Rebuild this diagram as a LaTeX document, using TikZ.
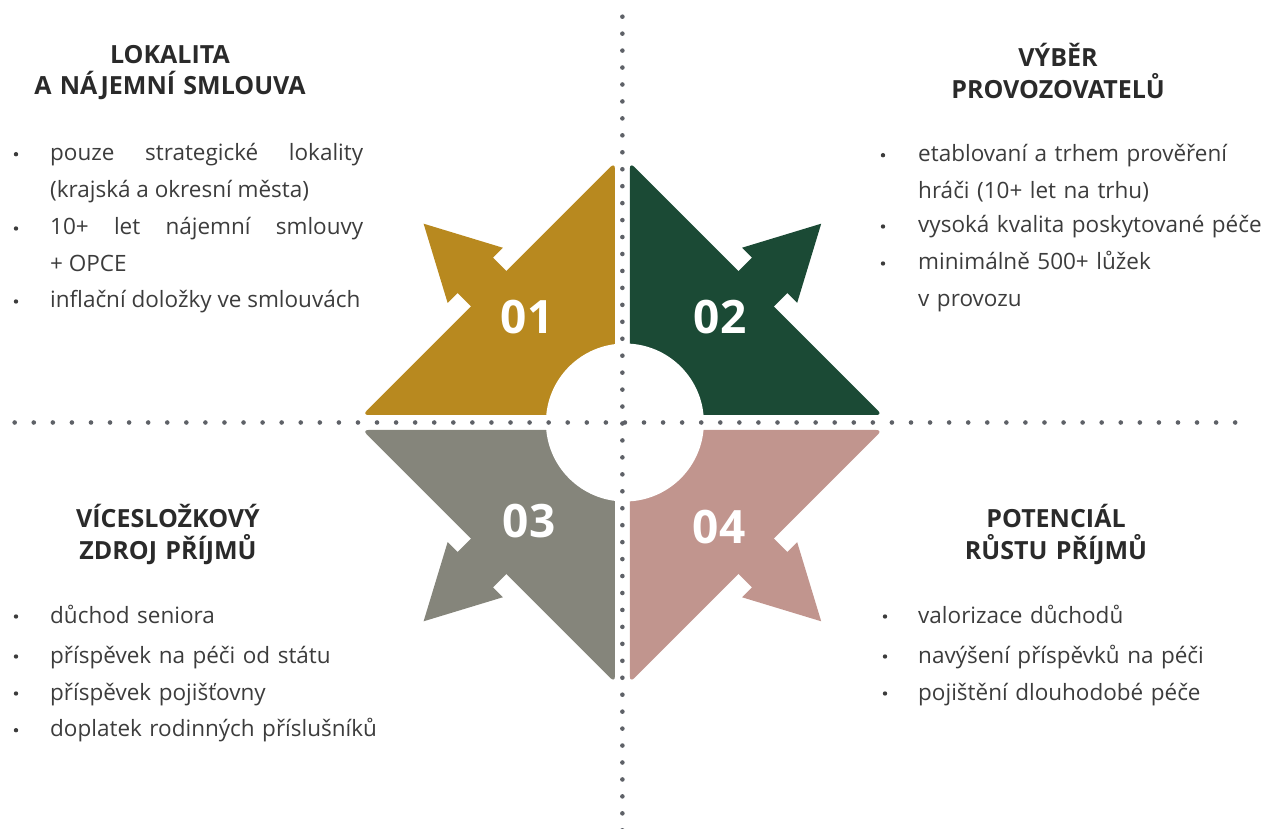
\documentclass[tikz,border=0pt]{standalone}
\usepackage{fontspec}
\setmainfont{Open Sans}
\definecolor{ochre}{HTML}{B8891F}
\definecolor{pine}{HTML}{1B4A35}
\definecolor{stone}{HTML}{85857B}
\definecolor{blush}{HTML}{C1958E}
\definecolor{dotgray}{HTML}{5E6167}
\definecolor{ink}{HTML}{2A2A2A}
\definecolor{txt}{HTML}{3C3C3C}
\def\dgap{7.5}
\def\dlen{260}
\def\dmid{133.75}
\def\drad{79}
% one blade of the star: body + arrow, drawn in the top right quadrant and mirrored
\newcommand\quadblade[3]{%
  \begin{scope}[xscale=#2,yscale=#3]
    \fill[#1,rounded corners=6pt] (\dgap,\dgap) -- (\dgap,\dlen) -- (\dlen,\dgap) -- cycle;
    \begin{scope}[shift={(\dmid,\dmid)},rotate=45]
      \fill[#1] (-6,25) -- (19,25) -- (19,39) -- (92,0) -- (19,-39) -- (19,-25) -- (-6,-25) -- cycle;
    \end{scope}
  \end{scope}}
\begin{document}
\begin{tikzpicture}[x=1pt,y=1pt,
  num/.style={text=white,font=\fontsize{46}{46}\selectfont\bfseries,inner sep=0},
  head/.style={text=ink,font=\fontsize{25}{31.5}\selectfont\bfseries,align=center,text width=340,anchor=base,inner sep=0},
  item/.style={text=txt,font=\fontsize{22.5}{36.7}\selectfont,anchor=base west,inner sep=0},
  itemJ/.style={item,text width=313,align=justify},
  itemR/.style={item,text width=350,align=left},
  bul/.style={circle,fill=txt,inner sep=0,minimum size=4.4}]
\useasboundingbox (-622.4,-406.5) rectangle (643.6,422.5);

\quadblade{ochre}{-1}{1}
\quadblade{pine}{1}{1}
\quadblade{stone}{-1}{-1}
\quadblade{blush}{1}{-1}
\fill[white] (2.5,0) circle[radius=\drad];

% dotted cross
\foreach \i in {0,...,64}
  \fill[dotgray] (-607.7+\i*19.07,0) circle[radius=2.3];
\foreach \i in {0,...,48}
  \fill[dotgray] (0,405.8-\i*16.95) circle[radius=2.3];

\node[num] (n1) at (-95.4,105.5) {01};
\node[num] (n2) at (97.6,105.5) {02};
\node[num] (n3) at (-93.4,-98.5) {03};
\node[num] (n4) at (96.6,-104.5) {04};

\node[head] (t1) at (-452.4,359.2) {LOKALITA\\A NÁJEMNÍ SMLOUVA};
\node[head] (t2) at (435.6,355.8) {VÝBĚR\\PROVOZOVATELŮ};
\node[head] (t3) at (-454.4,-105.5) {VÍCESLOŽKOVÝ\\ZDROJ PŘÍJMŮ};
\node[head] (t4) at (433.6,-105.5) {POTENCIÁL\\RŮSTU PŘÍJMŮ};

\node[itemJ] (a1) at (-572.4,261.8) {pouze strategické lokality\linebreak (krajská a okresní města)};
\node[itemJ] (a2) at (-572.4,187.5) {10+ let nájemní smlouvy\linebreak + OPCE};
\node[itemJ] (a3) at (-572.4,114.5) {inflační doložky ve smlouvách};
\node[bul] (a1b) at (-606.4,268.3) {};
\node[bul] (a2b) at (-606.4,194) {};
\node[bul] (a3b) at (-606.4,121) {};

\node[itemR] (b1) at (295.6,260.8) {etablovaní a trhem prověření\\hráči (10+ let na trhu)};
\node[itemR] (b2) at (295.6,189.5) {vysoká kvalita poskytované péče};
\node[itemR] (b3) at (295.6,152.5) {minimálně 500+ lůžek\\v provozu};
\node[bul] (b1b) at (260.6,267.3) {};
\node[bul] (b2b) at (260.6,196) {};
\node[bul] (b3b) at (260.6,159) {};

\node[itemR] (c1) at (-572.4,-200.5) {důchod seniora};
\node[itemR] (c2) at (-572.4,-240.5) {příspěvek na péči od státu};
\node[itemR] (c3) at (-572.4,-277.5) {příspěvek pojišťovny};
\node[itemR] (c4) at (-572.4,-314.2) {doplatek rodinných příslušníků};
\node[bul] (c1b) at (-606.4,-194) {};
\node[bul] (c2b) at (-606.4,-234) {};
\node[bul] (c3b) at (-606.4,-271) {};
\node[bul] (c4b) at (-606.4,-307.7) {};

\node[itemR] (d1) at (295.6,-200.5) {valorizace důchodů};
\node[itemR] (d2) at (295.6,-240.5) {navýšení příspěvků na péči};
\node[itemR] (d3) at (295.6,-277.5) {pojištění dlouhodobé péče};
\node[bul] (d1b) at (262.6,-194) {};
\node[bul] (d2b) at (262.6,-234) {};
\node[bul] (d3b) at (262.6,-271) {};
\end{tikzpicture}
\end{document}
